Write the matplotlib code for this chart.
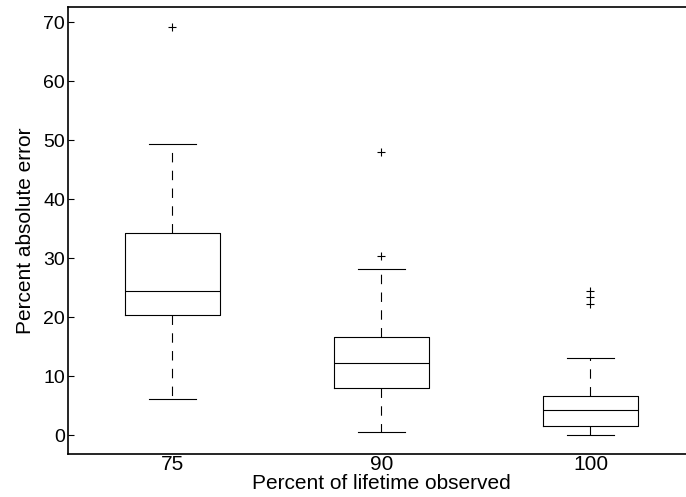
import matplotlib
matplotlib.use("Agg")
import matplotlib.pyplot as plt

plt.rcParams["font.family"] = ["Liberation Sans", "DejaVu Sans"]

# data (percent absolute error)
groups = ["75", "90", "100"]
whisker_low = [6.2, 0.5, 0.1]
q1 = [20.3, 8.0, 1.6]
median = [24.4, 12.2, 4.3]
q3 = [34.2, 16.6, 6.7]
whisker_high = [49.4, 28.2, 13.1]
outliers = [[69.2], [48.0, 30.4], [24.5, 23.5, 22.2]]

stats = []
for i, name in enumerate(groups):
    stats.append({
        "label": name,
        "whislo": whisker_low[i],
        "q1": q1[i],
        "med": median[i],
        "q3": q3[i],
        "whishi": whisker_high[i],
        "fliers": outliers[i],
    })

fig = plt.figure(figsize=(6.86, 4.97), dpi=100)
ax = fig.add_axes([0.0991, 0.0865, 0.914, 0.8994])

line = dict(color="black", linewidth=0.8)
ax.bxp(
    stats,
    widths=0.45,
    boxprops=line,
    medianprops=line,
    capprops=line,
    whiskerprops=dict(color="black", linewidth=0.8, linestyle=(0, (8.5, 7.5))),
    flierprops=dict(marker="+", markersize=6, markeredgecolor="black",
                    markeredgewidth=0.8, linestyle="none"),
)

ax.set_xlim(0.5, 3.5)
ax.set_ylim(-3.2, 72.6)
ax.set_yticks(range(0, 71, 10))
ax.tick_params(axis="y", direction="in", length=4, width=0.8, labelsize=14, pad=2)
ax.tick_params(axis="x", length=0, labelsize=15, pad=1)
for side in ["left", "bottom", "top", "right"]:
    ax.spines[side].set_linewidth(1.2)

ax.set_xlabel("Percent of lifetime observed", fontsize=15, labelpad=0)
ax.set_ylabel("Percent absolute error", fontsize=15, labelpad=6)

fig.savefig("out.png", dpi=100)
